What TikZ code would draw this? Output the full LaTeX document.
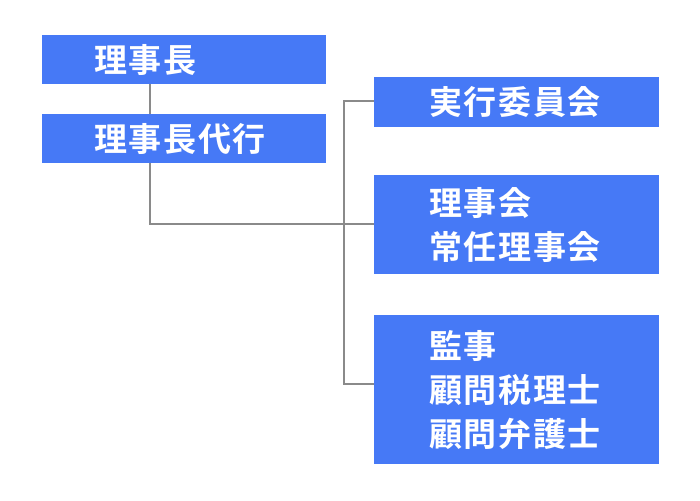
\documentclass[tikz,border=0pt]{standalone}
\usepackage{fontspec}
\usepackage{tikz}
\newfontfamily\jpfont{Noto Sans CJK JP Bold}[LetterSpace=5]
\definecolor{boxblue}{HTML}{4679F6}
\definecolor{linegray}{HTML}{8A8A8A}
\tikzset{post/.style={draw=none, fill=boxblue, text=white, font=\jpfont\fontsize{33}{44}\selectfont, anchor=north west, align=left, inner ysep=0pt},
  lpost/.style={post, inner xsep=52pt, text width=180pt, minimum height=49pt},
  rpost/.style={post, inner xsep=55pt, text width=175pt},
  wire/.style={draw=linegray, line width=2pt}}

\begin{document}
\begin{tikzpicture}[x=1pt, y=-1pt]
  \useasboundingbox (0,0) rectangle (700,500);

  \node (chair) [lpost] at (42, 35) {理事長};
  \node (deputy) [lpost] at (42, 114) {理事長代行};

  \node (exec) [rpost, minimum height=50pt] at (374, 77) {実行委員会};
  \node (board) [rpost, minimum height=99pt] at (374, 175) {理事会\\常任理事会};
  \node (audit) [rpost, minimum height=149pt] at (374, 315) {監事\\顧問税理士\\顧問弁護士};

  \coordinate (j1) at (150, 224);
  \coordinate (bt) at (344, 101);
  \coordinate (bb) at (344, 384);

  \draw [wire] (chair.south -| j1) -- (deputy.north -| j1);
  \draw [wire] (deputy.south -| j1) -- (j1) -- (j1 -| board.west);
  \draw [wire] (exec.west |- bt) -- (bt) -- (bb) -- (bb -| audit.west);
\end{tikzpicture}
\end{document}
